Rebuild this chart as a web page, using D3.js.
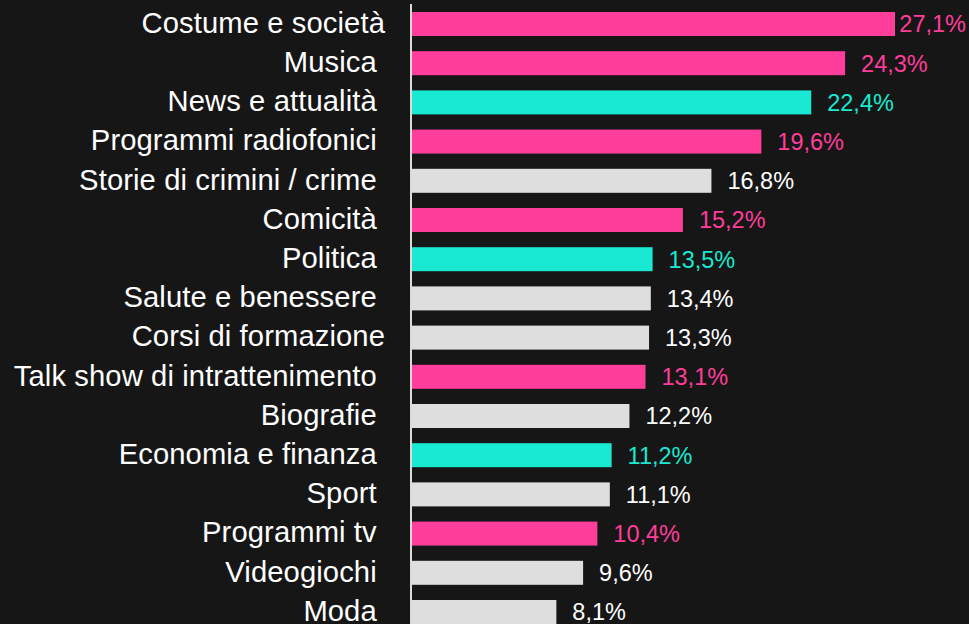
<!DOCTYPE html>
<html>
<head>
<meta charset="utf-8">
<script src="https://cdn.jsdelivr.net/npm/d3@7"></script>
<style>
  html, body { margin: 0; padding: 0; background: #161616; }
  svg { display: block; }
  text { font-family: Arial, "Liberation Sans", sans-serif; white-space: pre; }
</style>
</head>
<body>
<svg id="chart" width="969" height="624"></svg>
<script>
// Podcast genres and share of listeners (%)
const categories = [
  "Costume e società", "Musica ", "News e attualità ", "Programmi radiofonici ",
  "Storie di crimini / crime ", "Comicità ", "Politica ", "Salute e benessere ",
  "Corsi di formazione", "Talk show di intrattenimento ", "Biografie ",
  "Economia e finanza ", "Sport ", "Programmi tv ", "Videogiochi ", "Moda "
];
const values = [27.1, 24.3, 22.4, 19.6, 16.8, 15.2, 13.5, 13.4, 13.3, 13.1, 12.2, 11.2, 11.1, 10.4, 9.6, 8.1];
// highlight group per category: "pink", "teal" or "base"
const groups = [
  "pink", "pink", "teal", "pink", "base", "pink", "teal", "base",
  "base", "pink", "base", "teal", "base", "pink", "base", "base"
];

const palette = { pink: "#FF3D9A", teal: "#19E8D2", base: "#DEDEDE" };
const labelColor = { pink: "#FF3D9A", teal: "#19E8D2", base: "#FFFFFF" };

const W = 969, H = 624;
const svg = d3.select("#chart");
const rows = categories.map((c, i) => ({ cat: c, value: values[i], group: groups[i] }));

const y = d3.scaleBand()
  .domain(categories)
  .range([4.4, 631.6])
  .paddingInner(0.388)
  .paddingOuter(0.194);

const x = d3.scaleLinear().domain([0, 27.1]).range([412, 895]);

// bars
svg.append("g").selectAll("rect")
  .data(rows)
  .join("rect")
  .attr("x", x(0))
  .attr("y", d => y(d.cat))
  .attr("width", d => x(d.value) - x(0))
  .attr("height", y.bandwidth())
  .attr("fill", d => palette[d.group]);

// vertical axis line
svg.append("line")
  .attr("x1", 411).attr("x2", 411)
  .attr("y1", 4).attr("y2", H)
  .attr("stroke", "#DADADA")
  .attr("stroke-width", 2);

// category labels
svg.append("g").selectAll("text")
  .data(rows)
  .join("text")
  .attr("x", 385)
  .attr("y", d => y(d.cat) + y.bandwidth() / 2 + 8.7)
  .attr("text-anchor", "end")
  .attr("font-size", 29.2)
  .attr("letter-spacing", 0.1)
  .attr("fill", "#FFFFFF")
  .text(d => d.cat);

// value labels, kept inside the right edge
const fmt = v => d3.format(".1f")(v).replace(".", ",") + "%";
svg.append("g").selectAll("text")
  .data(rows)
  .join("text")
  .attr("y", d => y(d.cat) + y.bandwidth() / 2 + 8.3)
  .attr("font-size", 23.5)
  .attr("fill", d => labelColor[d.group])
  .text(d => fmt(d.value))
  .attr("x", function(d) {
    const w = this.getComputedTextLength();
    return Math.min(x(d.value) + 16, W - 3 - w);
  });
</script>
</body>
</html>
